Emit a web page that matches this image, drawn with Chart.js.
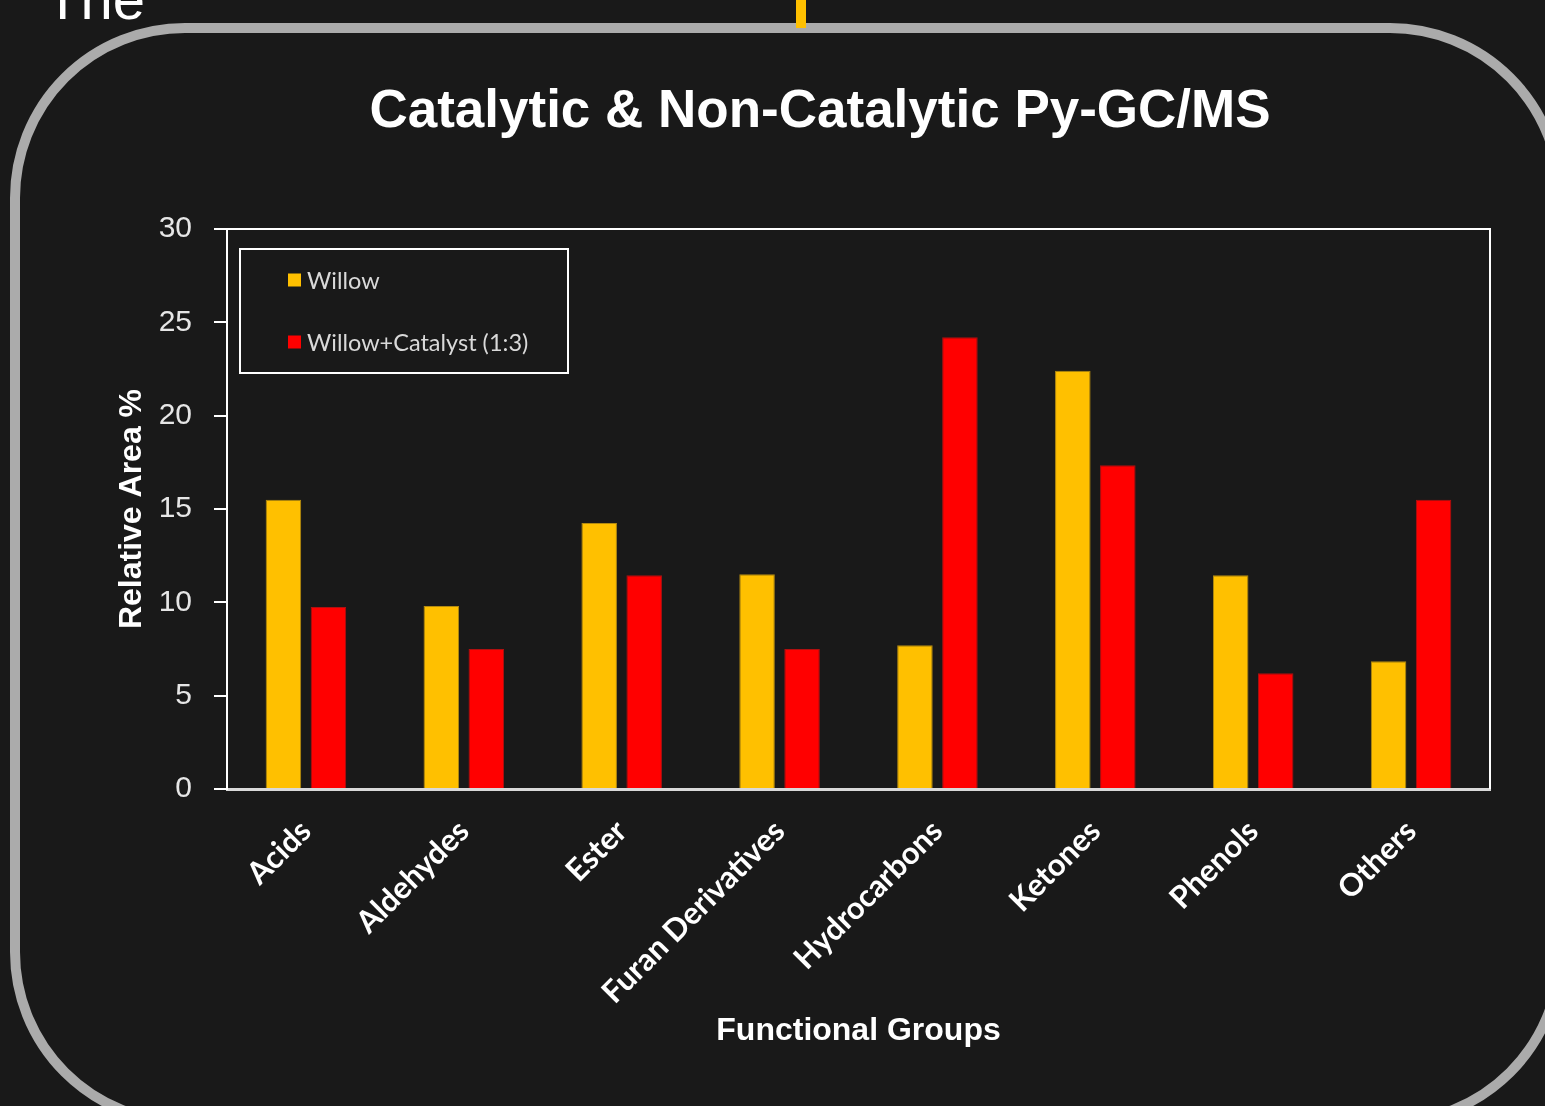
<!DOCTYPE html>
<html>
<head>
<meta charset="utf-8">
<title>Catalytic & Non-Catalytic Py-GC/MS</title>
<script src="https://cdn.jsdelivr.net/npm/chart.js@4.4.1/dist/chart.umd.min.js"></script>
<style>
  html, body { margin: 0; padding: 0; background: #191919; overflow: hidden; }
  #wrap { position: relative; width: 1545px; height: 1106px; }
  .frame {
    position: absolute; left: 10px; top: 23px; width: 1555px; height: 1104px;
    box-sizing: border-box; border: 10px solid #ababab; border-radius: 175px;
  }
  .word {
    position: absolute; left: 45px; top: -30px; margin: 0;
    font: 58px/1 "Liberation Sans", Arial, sans-serif; color: #fff;
  }
  .mark { position: absolute; left: 796px; top: 0; width: 10px; height: 28px; background: #ffc000; }
  canvas { position: absolute; left: 0; top: 0; }
</style>
</head>
<body>
<div id="wrap">
  <div class="frame"></div>
  <div class="word">The</div>
  <div class="mark"></div>
  <canvas id="pyChart" width="1545" height="1106"></canvas>
</div>
<script>
const categories = ['Acids', 'Aldehydes', 'Ester', 'Furan Derivatives', 'Hydrocarbons', 'Ketones', 'Phenols', 'Others'];
const willow = [15.5, 9.8, 14.25, 11.5, 7.7, 22.4, 11.45, 6.85];
const willowCatalyst = [9.75, 7.5, 11.45, 7.5, 24.2, 17.35, 6.2, 15.5];
const yMin = 0;
const yMax = 30;
const yStep = 5;

// white frame on top and right of the plot area
const plotFrame = {
  id: 'plotFrame',
  afterDatasetsDraw(chart) {
    const { ctx, chartArea: a } = chart;
    ctx.save();
    ctx.strokeStyle = '#ffffff';
    ctx.lineWidth = 2;
    ctx.beginPath();
    ctx.moveTo(a.left, a.top);
    ctx.lineTo(a.right, a.top);
    ctx.lineTo(a.right, a.bottom);
    ctx.stroke();
    ctx.restore();
  }
};

// boxed legend inside the plot area
const boxLegend = {
  id: 'boxLegend',
  afterDraw(chart) {
    const { ctx, chartArea } = chart;
    const x = chartArea.left + 13, y = chartArea.top + 20, w = 328, h = 124;
    ctx.save();
    ctx.strokeStyle = '#ffffff';
    ctx.lineWidth = 2;
    ctx.strokeRect(x, y, w, h);
    ctx.font = '23.5px Lato';
    ctx.textBaseline = 'middle';
    ctx.textAlign = 'left';
    chart.data.datasets.forEach((ds, i) => {
      const cy = y + 31 + i * 62;
      ctx.fillStyle = ds.backgroundColor;
      ctx.fillRect(x + 48, cy - 6.5, 13, 13);
      ctx.fillStyle = '#d9d9d9';
      ctx.fillText(ds.label, x + 67, cy + 1);
    });
    ctx.restore();
  }
};

const ctx = document.getElementById('pyChart').getContext('2d');
new Chart(ctx, {
  type: 'bar',
  data: {
    labels: categories,
    datasets: [
      {
        label: 'Willow',
        data: willow,
        backgroundColor: '#ffc000',
        borderColor: '#b38a10',
        borderWidth: 1
      },
      {
        label: 'Willow+Catalyst (1:3)',
        data: willowCatalyst,
        backgroundColor: '#ff0000',
        borderColor: '#b01010',
        borderWidth: 1
      }
    ]
  },
  plugins: [plotFrame, boxLegend],
  options: {
    responsive: false,
    animation: false,
    devicePixelRatio: 1,
    categoryPercentage: 0.57,
    barPercentage: 0.79,
    // left padding shifts the centred title to the right, like the original
    layout: { padding: { left: 150, right: 55, top: 0, bottom: 0 } },
    plugins: {
      legend: { display: false },
      tooltip: { enabled: false },
      title: {
        display: true,
        text: 'Catalytic & Non-Catalytic Py-GC/MS',
        color: '#ffffff',
        font: { family: 'Liberation Sans', size: 53, weight: 'bold', lineHeight: 1.2 },
        padding: { top: 81, bottom: 84.4 }
      }
    },
    scales: {
      x: {
        grid: { display: false },
        border: { display: true, color: '#d9d9d9', width: 3 },
        ticks: {
          color: '#ffffff',
          font: { family: 'Lato', size: 31, weight: 'bold' },
          minRotation: 45,
          maxRotation: 45,
          autoSkip: false,
          padding: 16
        },
        title: {
          display: true,
          text: 'Functional Groups',
          color: '#ffffff',
          font: { family: 'Liberation Sans', size: 32, weight: 'bold', lineHeight: 1.2 },
          padding: { top: 0, bottom: 56 }
        },
        afterFit(scale) { scale.height = 317; }
      },
      y: {
        min: yMin,
        max: yMax,
        ticks: {
          stepSize: yStep,
          color: '#e6e6e6',
          font: { family: 'Liberation Sans', size: 30 },
          padding: 22
        },
        grid: { display: true, drawOnChartArea: false, tickLength: 13, color: '#ffffff', lineWidth: 2 },
        border: { display: true, color: '#ffffff', width: 2 },
        title: {
          display: true,
          text: 'Relative Area %',
          color: '#ffffff',
          font: { family: 'Liberation Sans', size: 32, weight: 'bold', lineHeight: 1.2 },
          padding: { top: -37, bottom: 0 }
        },
        afterFit(scale) { scale.width = 77; }
      }
    }
  }
});
</script>
</body>
</html>
